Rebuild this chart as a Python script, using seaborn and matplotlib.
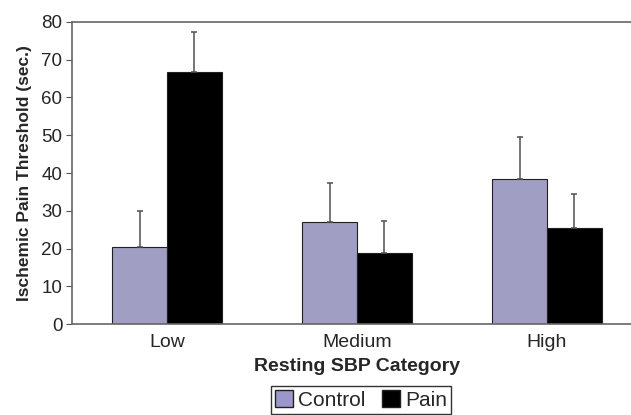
import matplotlib as mpl
import numpy as np
import seaborn as sns
import matplotlib.pyplot as plt
import pandas as pd

sns.set_style('white')
plt.rcParams['font.family'] = ['Liberation Sans', 'DejaVu Sans']

categories = ['Low', 'Medium', 'High']
groups = ['Control', 'Pain']
control_mean = [20.5, 26.9, 38.3]
pain_mean = [66.8, 18.7, 25.5]
control_err = [9.5, 10.4, 11.2]
pain_err = [10.6, 8.7, 8.9]

df = pd.DataFrame({
    'category': categories * 2,
    'group': ['Control'] * 3 + ['Pain'] * 3,
    'value': control_mean + pain_mean,
    'err': control_err + pain_err,
})

fig = plt.figure(figsize=(6.31, 4.15), dpi=100)
ax = fig.add_axes([72 / 631, 1 - 324 / 415, 570 / 631, 302 / 415])

sns.barplot(data=df, x='category', y='value', hue='group', order=categories,
            hue_order=groups, palette=['#9b98c9', '#000000'], width=0.574,
            edgecolor='#202020', linewidth=0.8, errorbar=None, ax=ax, legend=False)

# upper-only error bars on each bar
for patch, (_, row) in zip(ax.patches, df.iterrows()):
    xc = patch.get_x() + patch.get_width() / 2
    ax.errorbar(xc, row['value'], yerr=[[0], [row['err']]], fmt='none',
                ecolor='#505050', elinewidth=1.1, capsize=2.5, capthick=1.1)

ax.set_xlim(-0.5, 2.5)
ax.set_ylim(0, 80)
ax.set_yticks(np.arange(0, 81, 10))
ax.set_xticks([-0.5, 0.5, 1.5, 2.5], minor=True)
ax.tick_params(axis='x', which='major', length=0, labelsize=14, pad=7)
ax.tick_params(axis='x', which='minor', length=4, color='#555555', direction='out')
ax.tick_params(axis='y', length=4, color='#555555', direction='out', labelsize=13.5,
               left=True, pad=3)
for s in ['top', 'left', 'bottom', 'right']:
    ax.spines[s].set_color('#666666')
    ax.spines[s].set_linewidth(1.2)

ax.set_xlabel('Resting SBP Category', fontsize=14, fontweight='bold', labelpad=5)
ax.set_ylabel('Ischemic Pain Threshold (sec.)', fontsize=12.5, fontweight='bold', labelpad=7)

handles = [mpl.patches.Patch(facecolor='#9b98c9', edgecolor='#202020', label='Control'),
           mpl.patches.Patch(facecolor='#000000', edgecolor='#202020', label='Pain')]
fig.legend(handles=handles, loc='upper center', bbox_to_anchor=(361 / 631, 1 - 386 / 415), ncol=2,
           frameon=True, fancybox=False, edgecolor='black', fontsize=15,
           handlelength=0.85, handleheight=0.85, handletextpad=0.25, columnspacing=0.8,
           borderpad=0.2, borderaxespad=0)

fig.savefig('out.png', dpi=100, facecolor='w')
